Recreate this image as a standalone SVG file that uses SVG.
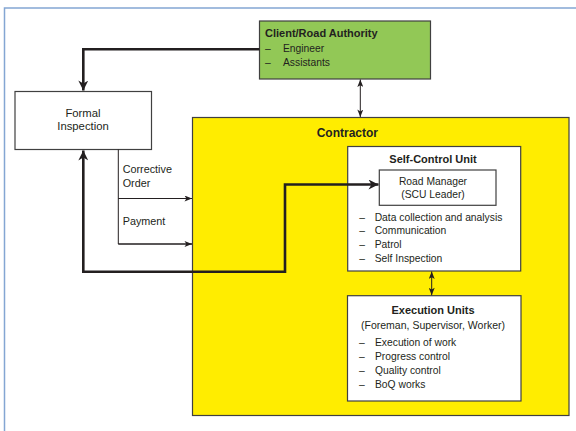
<svg xmlns="http://www.w3.org/2000/svg" width="576" height="431" viewBox="0 0 576 431">
<defs>
<marker id="thin" viewBox="0 0 10 8" refX="10" refY="4" markerWidth="8" markerHeight="6" markerUnits="userSpaceOnUse" orient="auto-start-reverse">
<path d="M0,0 L10,4 L0,8 L2.5,4 z" fill="#231f20"/>
</marker>
<marker id="thick" viewBox="0 0 10 10" refX="10" refY="5" markerWidth="11" markerHeight="10" markerUnits="userSpaceOnUse" orient="auto-start-reverse">
<path d="M0,0 L10,5 L0,10 L3,5 z" fill="#231f20"/>
</marker>
<style>
text{font-family:"Liberation Sans",Arial,sans-serif;fill:#231f20;font-size:10.3px}
.b{font-weight:bold;font-size:11px}
.c{text-anchor:middle}
.lbl{font-size:10.8px}
.fi{font-size:11.3px}
.box{fill:#ffffff;stroke:#404040;stroke-width:1.2}
.thinl{fill:none;stroke:#231f20;stroke-width:1}
.thickl{fill:none;stroke:#231f20;stroke-width:2.6}
</style>
</defs>
<rect x="0" y="0" width="576" height="431" fill="#ffffff"/>
<rect x="4.5" y="8" width="600" height="450" fill="none" stroke="#84a6d3" stroke-width="1.5"/>

<g id="contractor">
<rect x="192.5" y="117.5" width="376.5" height="298" fill="#ffed00" stroke="#404040" stroke-width="1.2"/>
<text class="b" x="316.7" y="137.3" style="font-size:12px">Contractor</text>
</g>

<g id="client">
<rect x="259.5" y="21" width="171" height="58" fill="#92c856" stroke="#404040" stroke-width="1.2"/>
<text class="b" x="265" y="37.3">Client/Road Authority</text>
<text x="265" y="51.7">–</text><text x="283" y="51.7">Engineer</text>
<text x="265" y="65.7">–</text><text x="283" y="65.7">Assistants</text>
</g>

<g id="formal">
<rect class="box" x="15" y="91.5" width="136.5" height="58"/>
<text class="c fi" x="83" y="116.7">Formal</text>
<text class="c fi" x="83" y="130">Inspection</text>
</g>

<g id="scu">
<rect class="box" x="347.7" y="146.5" width="173" height="124.5"/>
<text class="b c" x="433" y="163.3">Self-Control Unit</text>
<text x="359.3" y="220.7">–</text><text x="374.7" y="220.7">Data collection and analysis</text>
<text x="359.3" y="234.3">–</text><text x="374.7" y="234.3">Communication</text>
<text x="359.3" y="248.3">–</text><text x="374.7" y="248.3">Patrol</text>
<text x="359.3" y="262">–</text><text x="374.7" y="262">Self Inspection</text>
</g>

<g id="roadmanager">
<rect class="box" x="379.3" y="170" width="116.7" height="35.3"/>
<text class="c" x="433" y="185">Road Manager</text>
<text class="c" x="433" y="198.3">(SCU Leader)</text>
</g>

<g id="execution">
<rect class="box" x="347.5" y="295.7" width="173.5" height="105.3"/>
<text class="b c" x="433" y="314.3">Execution Units</text>
<text class="c" x="433" y="329.3" style="font-size:10.5px">(Foreman, Supervisor, Worker)</text>
<text x="359" y="346">–</text><text x="375" y="346">Execution of work</text>
<text x="359" y="360">–</text><text x="375" y="360">Progress control</text>
<text x="359" y="374">–</text><text x="375" y="374">Quality control</text>
<text x="359" y="387.7">–</text><text x="375" y="387.7">BoQ works</text>
</g>

<g id="connectors">
<path class="thickl" d="M259.5,49.3 H83.3 V90.5" marker-end="url(#thick)"/>
<path class="thickl" d="M83.3,150.5 V271.7 H285 V184.5 H378.5" marker-start="url(#thick)" marker-end="url(#thick)"/>
<path class="thinl" d="M360.3,79.5 V117" marker-start="url(#thin)" marker-end="url(#thin)"/>
<path class="thinl" d="M431.7,271.5 V295.2" marker-start="url(#thin)" marker-end="url(#thin)"/>
<path class="thinl" d="M118.3,149.5 V244 H192"/>
<path class="thinl" d="M118.3,198.5 H192" marker-end="url(#thin)"/>
<path class="thinl" d="M118.3,244 H192" marker-end="url(#thin)"/>
<text class="lbl" x="122.7" y="173.3">Corrective</text>
<text class="lbl" x="122.7" y="187.3">Order</text>
<text class="lbl" x="122.7" y="225.3">Payment</text>
</g>
</svg>
